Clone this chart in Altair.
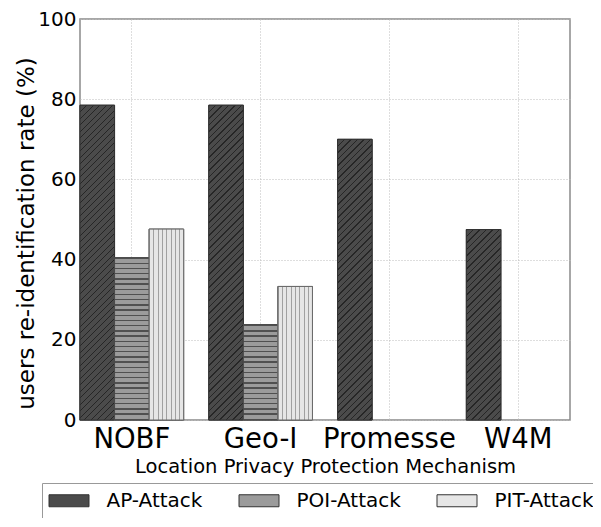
import altair as alt
import pandas as pd

# ---------------- data ----------------
categories = ["NOBF", "Geo-I", "Promesse", "W4M"]
series = ["AP-Attack", "POI-Attack", "PIT-Attack"]
ap_values = [78.5, 78.5, 70.0, 47.5]
poi_values = [40.5, 23.8, None, None]
pit_values = [47.6, 33.3, None, None]
y_ticks = [0, 20, 40, 60, 80, 100]

rows = []
for i, c in enumerate(categories):
    for s, vals in zip(series, [ap_values, poi_values, pit_values]):
        v = vals[i]
        if v is not None:
            rows.append({"mechanism": c, "attack": s, "rate": v})
df = pd.DataFrame(rows)

# ---------------- layout / style ----------------
W, H = 490, 401
PAD_INNER = 0.195
step = W / (len(categories) - PAD_INNER)
bar_w = step * (1 - PAD_INNER) / len(series)

fills = {"AP-Attack": "#4b4b4b", "POI-Attack": "#9b9b9b", "PIT-Attack": "#e6e6e6"}
lines = {"AP-Attack": "#262626", "POI-Attack": "#505050", "PIT-Attack": "#a0a0a0"}
strokes = {"AP-Attack": "#333333", "POI-Attack": "#4a4a4a", "PIT-Attack": "#6a6a6a"}


def stripe_stops(total_px, period, lw, fill, line):
    stops = []
    k = 0
    while k * period < total_px:
        a = k * period / total_px
        b = min((k * period + lw) / total_px, 1.0)
        c = min((k + 1) * period / total_px, 1.0)
        stops += [
            {"offset": a, "color": line},
            {"offset": b, "color": line},
            {"offset": b, "color": fill},
            {"offset": c, "color": fill},
        ]
        k += 1
    return stops


def hatch(attack, value):
    h = value / 100.0 * H
    w = bar_w
    f, l = fills[attack], lines[attack]
    if attack == "AP-Attack":
        tot = w + h
        k = tot / (w * w + h * h)
        return {"gradient": "linear", "x1": 0, "y1": 0, "x2": k * w, "y2": k * h,
                "stops": stripe_stops(tot, 6.5, 1.2, f, l)}
    if attack == "POI-Attack":
        return {"gradient": "linear", "x1": 0, "y1": 1, "x2": 0, "y2": 0,
                "stops": stripe_stops(h, 5.2, 1.4, f, l)}
    return {"gradient": "linear", "x1": 0, "y1": 0, "x2": 1, "y2": 0,
            "stops": stripe_stops(w, 4.3, 1.0, f, l)}


x_enc = alt.X(
    "mechanism:N", sort=categories,
    scale=alt.Scale(domain=categories, paddingInner=PAD_INNER, paddingOuter=0),
    axis=alt.Axis(title="Location Privacy Protection Mechanism", labelAngle=0,
                  labelFontSize=27.5, labelPadding=5, labelColor="black",
                  titleFontSize=19.5, titleFontWeight="normal", titleColor="black",
                  titleY=52, titleBaseline="alphabetic",
                  ticks=False, domain=False, grid=True),
)
xo_enc = alt.XOffset("attack:N", sort=series,
                     scale=alt.Scale(domain=series, paddingInner=0, paddingOuter=0))
y_enc = alt.Y(
    "rate:Q", scale=alt.Scale(domain=[0, 100], nice=False),
    axis=alt.Axis(title="users re-identification rate (%)", values=y_ticks,
                  labelFontSize=20, labelPadding=4, labelColor="black",
                  titleFontSize=23, titleFontWeight="normal", titleColor="black",
                  titleAngle=270, titleX=-47, titleY=214, titleBaseline="alphabetic",
                  titleAlign="center",
                  ticks=False, domain=False, grid=True),
)

base = alt.Chart(df).mark_bar(stroke="#333333", strokeWidth=1).encode(
    x=x_enc, xOffset=xo_enc, y=y_enc,
    color=alt.Color(
        "attack:N",
        scale=alt.Scale(domain=series, range=[fills[s] for s in series]),
        legend=alt.Legend(
            title=None, orient="none", legendX=-38, legendY=464,
            direction="horizontal", columns=3,
            symbolType="M-2,-0.6H2V0.6H-2Z", symbolSize=400,
            symbolOffset=9.5, labelOffset=27, columnPadding=34,
            padding=7, strokeColor="#999999",
            labelFontSize=20, labelColor="black", labelFont="DejaVu Sans",
            symbolStrokeColor="#333333", symbolStrokeWidth=1, symbolOpacity=1,
        ),
    ),
)

overlays = []
for r in rows:
    overlays.append(
        alt.Chart(df)
        .transform_filter((alt.datum.mechanism == r["mechanism"]) & (alt.datum.attack == r["attack"]))
        .mark_bar(fill=hatch(r["attack"], r["rate"]), stroke=strokes[r["attack"]], strokeWidth=1)
        .encode(x=x_enc, xOffset=xo_enc, y=y_enc)
    )

chart = (
    alt.layer(base, *overlays)
    .properties(width=W, height=H,
                autosize=alt.AutoSizeParams(type="none"),
                padding={"left": 72, "top": 11, "right": 23, "bottom": 98})
    .configure(font="DejaVu Sans")
    .configure_view(stroke="#8a8a8a", strokeWidth=1.5)
    .configure_axis(gridColor="#bdbdbd", gridDash=[1, 2], gridWidth=1,
                    labelFont="DejaVu Sans", titleFont="DejaVu Sans")
)

chart.save("out.html", embed_options={"renderer": "svg", "actions": False})
